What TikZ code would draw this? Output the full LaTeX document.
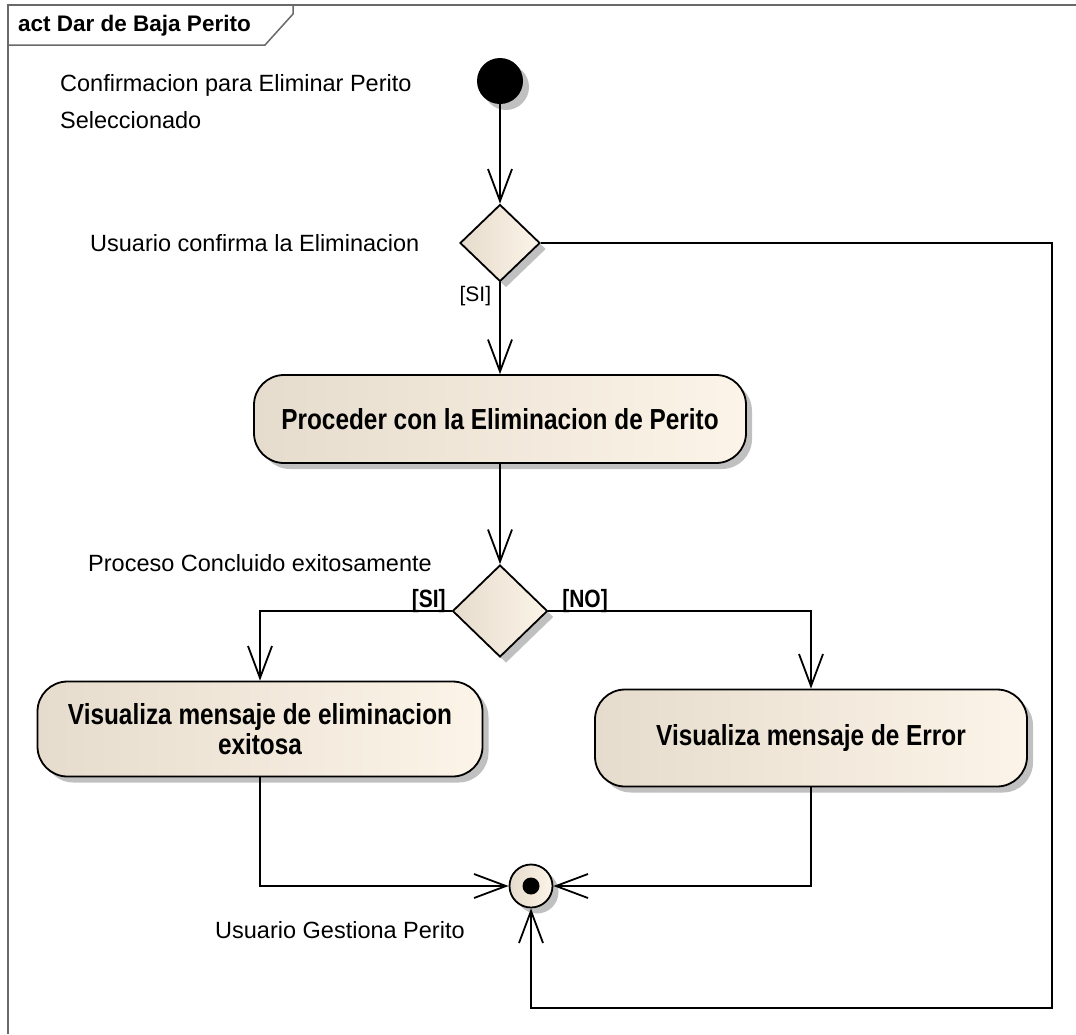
\documentclass[tikz,border=0pt]{standalone}
\usepackage{fontspec}
\setmainfont{Liberation Sans}
\newfontfamily\actfont{Liberation Sans}[FakeStretch=0.84]
\usetikzlibrary{shapes.geometric,arrows.meta,shadows}
\definecolor{actL}{RGB}{230,220,205}
\definecolor{actR}{RGB}{252,244,232}
\definecolor{shadowgray}{RGB}{192,192,192}
\definecolor{framegray}{RGB}{105,105,105}
\begin{document}
\begin{tikzpicture}[x=1pt,y=1pt,
  eashadow/.style={drop shadow={shadow xshift=6pt,shadow yshift=-6pt,fill=shadowgray,opacity=1}},
  actbox/.style={draw=black,line width=1.8pt,rounded corners=30pt,left color=actL,right color=actR,eashadow,
    inner sep=0pt,align=center,font=\actfont\bfseries\fontsize{29}{30}\selectfont},
  decision/.style={diamond,draw=black,line width=1.8pt,left color=actL,right color=actR,eashadow,inner sep=0pt},
  flow/.style={line width=1.8pt,-{Straight Barb[length=32pt,width=24pt]}},
  plain/.style={inner sep=0pt,font=\fontsize{23.5}{37}\selectfont,align=left},
  guard/.style={inner sep=0pt,font=\fontsize{21}{24}\selectfont},
  bguard/.style={inner sep=0pt,font=\actfont\bfseries\fontsize{25}{28}\selectfont}
]
\useasboundingbox (0,0) rectangle (1076,-1034);
% frame
\draw[framegray,line width=2pt] (1076,-5) -- (8,-5) -- (8,-1034);
\draw[framegray,line width=1.5pt] (8,-45) -- (265,-45) -- (293,-14) -- (293,-5);
\node[anchor=west,inner sep=0pt,font=\bfseries\fontsize{22.5}{24}\selectfont] (title) at (18,-26) {act Dar de Baja Perito};

% nodes
\node[circle,fill=black,minimum size=46pt,inner sep=0pt,eashadow] (init) at (500,-81) {};
\node[decision,minimum width=80pt,minimum height=77pt] (d1) at (500,-243) {};
\node[actbox,minimum width=492pt,minimum height=88pt] (a1) at (500,-419) {Proceder con la Eliminacion de Perito};
\node[decision,minimum width=95pt,minimum height=92pt] (d2) at (500,-611) {};
\node[actbox,minimum width=445pt,minimum height=95pt] (a2) at (260,-729) {Visualiza mensaje de eliminacion\\exitosa};
\node[actbox,minimum width=432pt,minimum height=97pt] (a3) at (811,-738) {Visualiza mensaje de Error};
\node[circle,draw=black,line width=1.8pt,left color=actL,right color=actR,minimum size=43pt,inner sep=0pt,eashadow] (fin) at (531,-886) {};
\node[circle,fill=black,minimum size=17pt,inner sep=0pt] (finin) at (fin.center) {};

% free labels
\node[plain,anchor=north west] (lconf) at (60,-74) {Confirmacion para Eliminar Perito\\Seleccionado};
\node[plain,anchor=west] (lusr) at (90,-243) {Usuario confirma la Eliminacion};
\node[plain,anchor=west] (lproc) at (88,-563) {Proceso Concluido exitosamente};
\node[plain,anchor=west] (lgest) at (215,-930) {Usuario Gestiona Perito};

% connectors
\coordinate (loopA) at (1052,-243);
\coordinate (loopB) at (1052,-1008);
\draw[flow] (init) -- (d1);
\draw[flow] (d1.south) -- (a1.north) node[pos=0,anchor=north east,guard,xshift=-8pt,yshift=-3pt] {[SI]};
\draw[flow] (a1.south) -- (d2.north);
\draw[flow] (d2.west) -| (a2.north) node[pos=0,anchor=south east,bguard,xshift=-5pt,yshift=-3pt] {[SI]};
\draw[flow] (d2.east) -| (a3.north) node[pos=0,anchor=south west,bguard,xshift=13pt,yshift=-3pt] {[NO]};
\draw[flow] (a2.south) |- (fin.west);
\draw[flow] (a3.south) |- (fin.east);
\draw[flow] (d1.east) -- (loopA) -- (loopB) -| (fin.south);
\end{tikzpicture}
\end{document}
